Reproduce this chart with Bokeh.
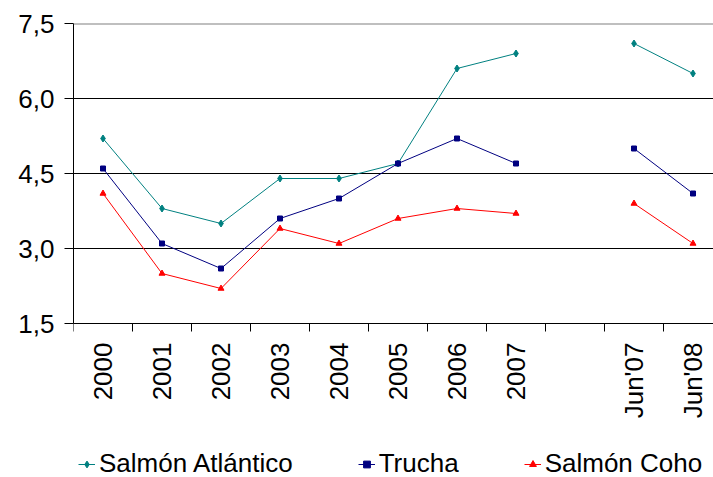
import numpy as np
from bokeh.plotting import figure
from bokeh.models import (Range1d, FixedTicker, Legend, LegendItem, Span,
                          CustomJSTickFormatter, ColumnDataSource)
from bokeh.embed import file_html
from bokeh.resources import INLINE

# ---- data ----
categories = ["2000", "2001", "2002", "2003", "2004", "2005", "2006", "2007", "", "Jun'07", "Jun'08"]
salmon_atlantico = [5.2, 3.8, 3.5, 4.4, 4.4, 4.7, 6.6, 6.9, None, 7.1, 6.5]
trucha = [4.6, 3.1, 2.6, 3.6, 4.0, 4.7, 5.2, 4.7, None, 5.0, 4.1]
salmon_coho = [4.1, 2.5, 2.2, 3.4, 3.1, 3.6, 3.8, 3.7, None, 3.9, 3.1]
series_names = ["Salmón Atlántico", "Trucha", "Salmón Coho"]
y_ticks = [1.5, 3.0, 4.5, 6.0, 7.5]

colors = ["#008080", "#000080", "#FF0000"]
markers = ["diamond", "square", "triangle"]
marker_sizes = [7, 5, 6]

FONT = "Liberation Sans"

n = len(categories)
x_pos = np.arange(n) + 0.5

def arr(v):
    return np.array([np.nan if a is None else a for a in v], dtype=float)

W, H = 713, 477
TOP, LEFT = 23, 73
px_per_unit = 50.0            # 1.5 units = 75 px
frame_h = H - TOP
y_min = y_ticks[-1] - frame_h / px_per_unit

p = figure(width=W, height=H, output_backend="svg", toolbar_location=None,
           x_range=Range1d(0, (W - LEFT) / 59.0), y_range=Range1d(y_min, y_ticks[-1]),
           min_border_left=LEFT, min_border_right=0, min_border_top=TOP,
           min_border_bottom=0)
p.outline_line_color = None
p.background_fill_color = "white"
p.border_fill_color = "white"

# x axis drawn at y = 1.5; labels at slot centres, tick marks at slot boundaries
xa = p.xaxis[0]
xa.fixed_location = y_ticks[0]
xa.ticker = FixedTicker(ticks=list(x_pos), minor_ticks=list(np.arange(n + 1)))
xa.formatter = CustomJSTickFormatter(args=dict(labels=categories),
                                     code="return labels[Math.floor(tick)];")
xa.major_tick_out = 0
xa.major_tick_in = 0
xa.minor_tick_out = 8
xa.minor_tick_in = 0
xa.minor_tick_line_color = "black"
xa.axis_line_color = "black"
xa.major_label_orientation = np.pi / 2
xa.major_label_text_font = FONT
xa.major_label_text_font_size = "26px"
xa.major_label_text_color = "black"
xa.major_label_standoff = 11

ya = p.yaxis[0]
ya.bounds = (y_ticks[0], y_ticks[-1])
ya.ticker = FixedTicker(ticks=y_ticks)
ya.formatter = CustomJSTickFormatter(code="return tick.toFixed(1).replace('.', ',');")
ya.major_tick_out = 9
ya.major_tick_in = 0
ya.minor_tick_out = 0
ya.minor_tick_in = 0
ya.major_tick_line_color = "black"
ya.axis_line_color = "black"
ya.major_label_text_font = FONT
ya.major_label_text_font_size = "26px"
ya.major_label_text_color = "black"
ya.major_label_standoff = 10

p.xgrid.visible = False
p.ygrid.grid_line_color = "black"
p.ygrid.grid_line_width = 1

p.add_layout(Span(location=y_ticks[-1], dimension="width", line_color="#808080", line_width=2))

items = []
for name, vals, c, m, s in zip(series_names, [salmon_atlantico, trucha, salmon_coho],
                                colors, markers, marker_sizes):
    src = ColumnDataSource(dict(x=x_pos, y=arr(vals)))
    lr = p.line("x", "y", source=src, line_color=c, line_width=1)
    sr = p.scatter("x", "y", source=src, marker=m, size=s, fill_color=c, line_color=c)
    items.append(LegendItem(label=name, renderers=[lr, sr]))

legend = Legend(items=items, orientation="horizontal", location=(5, -2),
                border_line_color=None, background_fill_alpha=0, padding=0, margin=0,
                spacing=65, glyph_width=17, glyph_height=20, label_standoff=4,
                label_text_font=FONT, label_text_font_size="26px",
                label_text_color="black")
p.add_layout(legend)

open("out.html", "w").write(file_html(p, INLINE))
